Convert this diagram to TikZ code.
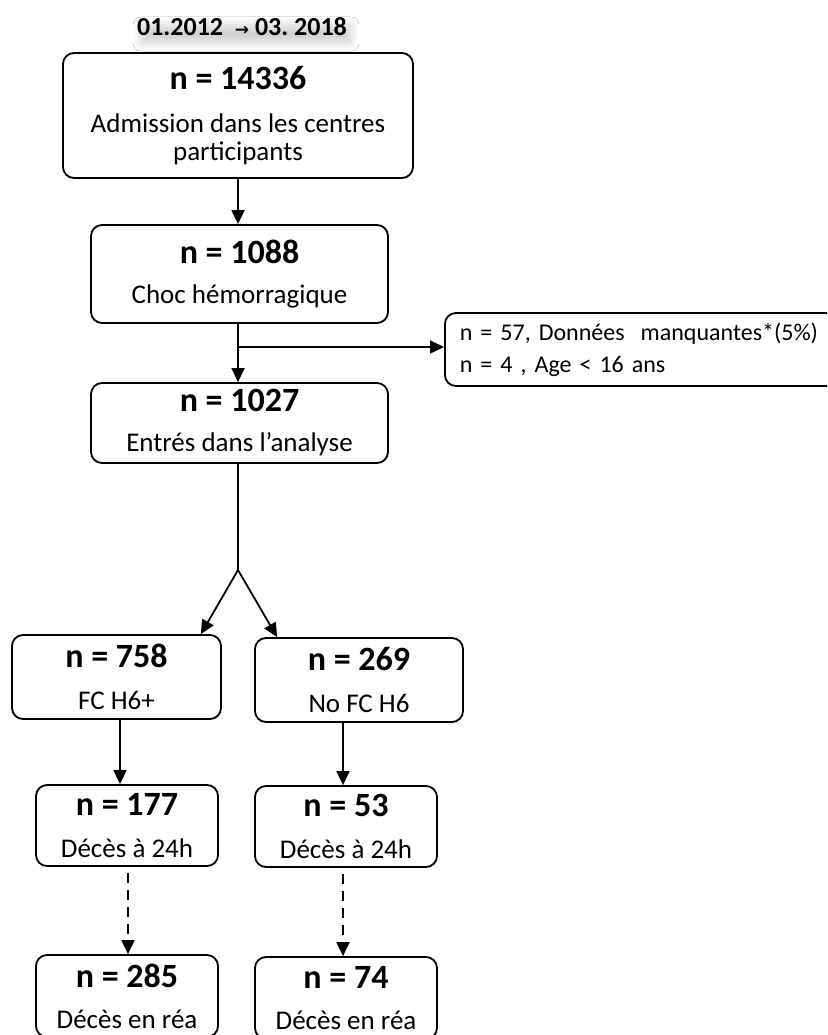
\documentclass[tikz,border=0pt]{standalone}
\usepackage{fontspec}
\setmainfont{Carlito}
\newfontfamily\symfont{DejaVu Sans}
\usetikzlibrary{arrows.meta,shadows.blur,calc}
\newcommand{\bnum}[1]{{\bfseries\fontsize{34}{34}\selectfont #1}}
\begin{document}
\begin{tikzpicture}[x=1pt,y=-1pt,
  box/.style={draw, line width=1.8pt, rounded corners=11pt, inner sep=0pt, align=center,
              font=\fontsize{27}{29}\selectfont},
  ln/.style={line width=1.8pt},
  arr/.style={line width=1.8pt, -{Triangle[length=14pt,width=13pt]}},
  dsh/.style={arr, dash pattern=on 10pt off 7pt}]
\useasboundingbox (0,0) rectangle (827,1035);
\fill[white] (0,0) rectangle (827,1035);
\clip (0,0) rectangle (827,1035);

% title
\node[inner sep=0pt, font=\bfseries\fontsize{26}{26}\selectfont,
      blur shadow={shadow xshift=4pt, shadow yshift=-7pt, shadow blur radius=8pt, shadow blur steps=14, shadow opacity=18}]
  (title) at (242,27) {01.2012\ \ {\symfont\fontsize{17}{17}\selectfont →}\ 03.\ 2018};

% boxes
\node[box, minimum width=350pt, minimum height=125pt] (top) at (238,115.5)
  {\bnum{n = 14336}\\[14pt] Admission dans les centres\\[-1pt] participants};
\node[box, minimum width=297pt, minimum height=98pt] (b1088) at (239.5,274)
  {\bnum{n = 1088}\\[11pt] Choc hémorragique};
\node[box, minimum width=297pt, minimum height=80pt] (b1027) at (239.5,423)
  {\bnum{n = 1027}\\[11pt] Entrés dans l’analyse};
\node[box, anchor=west, minimum width=406pt, minimum height=73pt, align=left, text width=376pt,
      font=\fontsize{24}{32}\selectfont] (side) at (444,349.5)
  {n = 57, Données\ \ manquantes*(5\%)\\ n = 4 , Age < 16 ans};
\node[box, minimum width=209pt, minimum height=84pt] (b758) at (116.5,677)
  {\bnum{n = 758}\\[13pt] FC H6+};
\node[box, minimum width=208pt, minimum height=84pt] (b269) at (359,680)
  {\bnum{n = 269}\\[13pt] No FC H6};
\node[box, minimum width=182pt, minimum height=81pt] (b177) at (127,825.5)
  {\bnum{n = 177}\\[13pt] Décès à 24h};
\node[box, minimum width=182pt, minimum height=81pt] (b53) at (346,826.5)
  {\bnum{n = 53}\\[13pt] Décès à 24h};
\node[box, minimum width=182pt, minimum height=82pt] (b285) at (127,996)
  {\bnum{n = 285}\\[12pt] Décès en réa};
\node[box, minimum width=182pt, minimum height=82pt] (b74) at (346,998)
  {\bnum{n = 74}\\[12pt] Décès en réa};

% connectors
\coordinate (branch) at (238,347);
\coordinate (split) at (238,570);
\draw[arr] (top.south) -- (top.south |- b1088.north);
\draw[arr] (238,0 |- b1088.south) -- (238,0 |- b1027.north);
\draw[arr] (branch) -- (side.west |- branch);
\draw[ln] (238,0 |- b1027.south) -- (split);
\draw[arr] (split) -- ($(b758.north east)+(-21,0)$);
\draw[arr] (split) -- ($(b269.north west)+(23,0)$);
\draw[arr] (120,0 |- b758.south) -- (120,0 |- b177.north);
\draw[arr] (343,0 |- b269.south) -- (343,0 |- b53.north);
\draw[dsh] (128,0 |- b177.south) ++(0,6) -- (128,0 |- b285.north);
\draw[dsh] (343,0 |- b53.south) ++(0,6) -- (343,0 |- b74.north);
\end{tikzpicture}
\end{document}
